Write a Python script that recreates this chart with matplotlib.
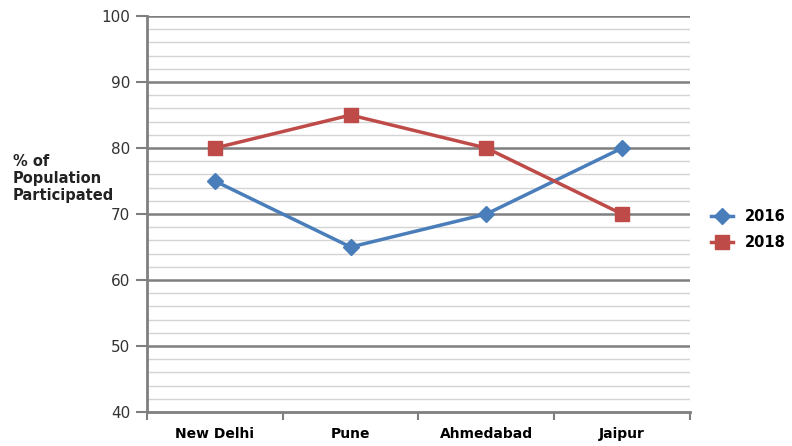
import matplotlib.pyplot as plt
import numpy as np

cities = ["New Delhi", "Pune", "Ahmedabad", "Jaipur"]
y2016 = [75, 65, 70, 80]
y2018 = [80, 85, 80, 70]

blue = "#4A7EBB"
red = "#BE4B48"

fig = plt.figure(figsize=(7.92, 4.46), dpi=100)
ax = fig.add_axes([0.1856, 0.0762, 0.6856, 0.8878])

x = np.arange(len(cities)) + 0.5
ax.plot(x, y2016, color=blue, lw=2.5, marker="D", ms=8, label="2016", zorder=3)
ax.plot(x, y2018, color=red, lw=2.5, marker="s", ms=10, label="2018", zorder=3)

ax.set_xlim(0, len(cities))
ax.set_ylim(40, 100)

# grid lines
for v in range(42, 100, 2):
    if v % 10:
        ax.axhline(v, color="#D4D4D4", lw=1, zorder=1)
for v in range(50, 101, 10):
    ax.axhline(v, color="#7F7F7F", lw=1.8, zorder=2)

ax.set_yticks(range(40, 101, 10))
ax.set_xticks(range(0, len(cities) + 1))
ax.set_xticklabels([])
ax.set_xticks(x, minor=True)
ax.set_xticklabels(cities, minor=True, fontweight="bold", fontsize=10)
ax.tick_params(axis="x", which="minor", length=0, pad=11)
ax.tick_params(axis="x", which="major", length=6, width=1.5, color="#7F7F7F", direction="out")
ax.tick_params(axis="y", length=8, width=1.5, color="#7F7F7F", labelsize=11, labelcolor="#333333", pad=4)

for s in ["top", "right"]:
    ax.spines[s].set_visible(False)
for s in ["left", "bottom"]:
    ax.spines[s].set_color("#7F7F7F")
    ax.spines[s].set_linewidth(2)

fig.text(0.016, 0.60, "% of\nPopulation\nParticipated", fontweight="bold", fontsize=10.5,
         va="center", ha="left", linespacing=1.15, color="#222222")

ax.legend(loc="center left", bbox_to_anchor=(1.015, 0.46), frameon=False,
          prop={"weight": "bold", "size": 10.5}, handlelength=1.5, labelspacing=0.75)

fig.savefig("out.png", dpi=100)
